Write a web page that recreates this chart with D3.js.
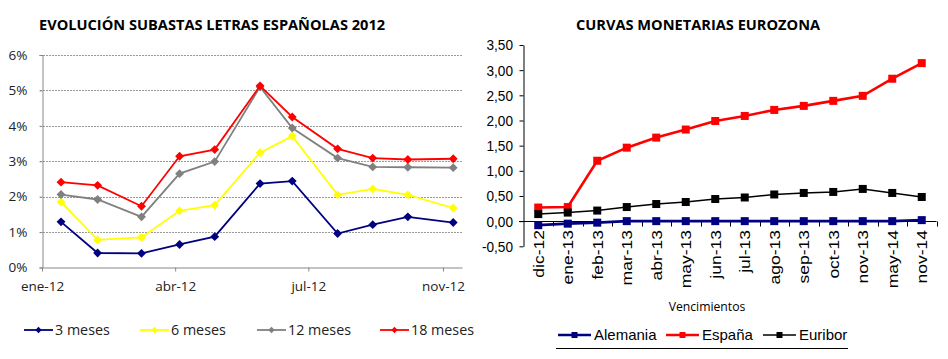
<!DOCTYPE html>
<html><head><meta charset="utf-8">
<script src="https://cdn.jsdelivr.net/npm/d3@7"></script>
<style>body{margin:0;background:#fff}svg{display:block}</style>
</head><body>
<script>
// ---------- Left chart data ----------
const leftTitle = "EVOLUCIÓN SUBASTAS LETRAS ESPAÑOLAS 2012";
const auctionDates = ["2012-01-14","2012-02-08","2012-03-09","2012-04-04","2012-04-28","2012-05-29","2012-06-20","2012-07-21","2012-08-14","2012-09-07","2012-10-08"];
const m3  = [1.29,0.41,0.40,0.65,0.87,2.37,2.44,0.96,1.21,1.43,1.27];
const m6  = [1.85,0.78,0.85,1.60,1.76,3.24,3.71,2.05,2.22,2.05,1.68];
const m12 = [2.06,1.92,1.43,2.65,2.99,5.10,3.94,3.09,2.84,2.83,2.82];
const m18 = [2.41,2.32,1.73,3.14,3.33,5.13,4.25,3.35,3.09,3.05,3.07];
const leftSeriesNames = ["3 meses","6 meses","12 meses","18 meses"];
const leftColors = ["#000080","#FFFF00","#808080","#FF0000"];
const leftTickDates = ["2012-01-01","2012-04-01","2012-07-01","2012-10-01"];
const leftTickLabels = ["ene-12","abr-12","jul-12","nov-12"];
const leftYTicks = [0,1,2,3,4,5,6];

// ---------- Right chart data ----------
const rightTitle = "CURVAS MONETARIAS EUROZONA";
const maturities = ["dic-12","ene-13","feb-13","mar-13","abr-13","may-13","jun-13","jul-13","ago-13","sep-13","oct-13","nov-13","may-14","nov-14"];
const alemania = [-0.08,-0.05,-0.03,0.00,0.00,0.00,0.00,0.00,0.00,0.00,0.00,0.00,0.00,0.02];
const espana   = [0.27,0.28,1.20,1.46,1.66,1.82,1.99,2.09,2.21,2.29,2.39,2.49,2.83,3.14];
const euribor  = [0.14,0.17,0.21,0.28,0.34,0.38,0.44,0.47,0.53,0.56,0.58,0.64,0.56,0.48];
const rightSeriesNames = ["Alemania","España","Euribor"];
const rightColors = ["#000080","#FF0000","#000000"];
const rightYTicks = [-0.5,0,0.5,1,1.5,2,2.5,3,3.5];
const rightXTitle = "Vencimientos";

const W = 948, H = 359;
const svg = d3.select("body").append("svg").attr("width",W).attr("height",H);
svg.append("rect").attr("width",W).attr("height",H).attr("fill","#fff");

// ===== LEFT CHART =====
{
  const parse = d3.timeParse("%Y-%m-%d");
  const x = d3.scaleTime().domain([parse("2012-01-01"), parse("2012-10-14")]).range([42, 462]);
  const y = d3.scaleLinear().domain([0,6]).range([267.5,55]);
  const font = "'Open Sans', sans-serif";
  const g = svg.append("g");

  g.append("text").attr("x",39).attr("y",30).attr("font-family",font).attr("font-weight","bold")
    .attr("font-size",14.6).attr("fill","#000").text(leftTitle);

  g.selectAll(".grid").data(leftYTicks.filter(d=>d>0)).join("line")
    .attr("x1",40).attr("x2",462).attr("y1",d=>Math.round(y(d))+0.5).attr("y2",d=>Math.round(y(d))+0.5)
    .attr("stroke","#9a9a9a").attr("stroke-width",1).attr("stroke-dasharray","2,1");
  const yAxis = d3.axisLeft(y).tickValues(leftYTicks).tickFormat(d=>d+"%").tickSize(3).tickPadding(12);
  const ya = g.append("g").attr("transform","translate(42.5,0)").call(yAxis);
  ya.select(".domain").attr("stroke","#888");
  ya.selectAll(".tick line").attr("stroke","#888");
  ya.selectAll("text").attr("font-family",font).attr("font-size",13.5).attr("fill","#222");
  const xAxis = d3.axisBottom(x).tickValues(leftTickDates.map(parse))
    .tickFormat((d,i)=>leftTickLabels[i]).tickSize(4).tickSizeOuter(0).tickPadding(10);
  const xa = g.append("g").attr("transform","translate(0,267.5)").call(xAxis);
  xa.select(".domain").attr("stroke","#888");
  xa.selectAll(".tick line").attr("stroke","#888");
  xa.selectAll("text").attr("font-family",font).attr("font-size",13.5).attr("fill","#222");

  const series = [m3,m6,m12,m18];
  const line = d3.line().x((d,i)=>x(parse(auctionDates[i]))).y(d=>y(d));
  const diamond = d3.symbol().type(d3.symbolDiamond2).size(50);
  series.forEach((s,k)=>{
    g.append("path").datum(s).attr("d",line).attr("fill","none")
      .attr("stroke",leftColors[k]).attr("stroke-width",1.8);
    g.selectAll(".mk"+k).data(s).join("path")
      .attr("transform",(d,i)=>`translate(${x(parse(auctionDates[i]))},${y(d)})`)
      .attr("d",diamond).attr("fill",leftColors[k]);
  });

  const legX = [24,140,257,380];
  const lg = g.append("g").attr("transform","translate(0,330)");
  leftSeriesNames.forEach((n,k)=>{
    lg.append("line").attr("x1",legX[k]).attr("x2",legX[k]+29).attr("y1",0).attr("y2",0)
      .attr("stroke",leftColors[k]).attr("stroke-width",1.8);
    lg.append("path").attr("transform",`translate(${legX[k]+14.5},0)`)
      .attr("d",d3.symbol().type(d3.symbolDiamond2).size(26)).attr("fill",leftColors[k]);
    lg.append("text").attr("x",legX[k]+31).attr("y",0).attr("dy","0.35em")
      .attr("font-family",font).attr("font-size",14.3).attr("fill","#222").text(n);
  });
}

// ===== RIGHT CHART =====
{
  const font = "'Liberation Sans', Arial, sans-serif";
  const x = d3.scaleBand().domain(maturities).range([523.5,936.5]);
  const y = d3.scaleLinear().domain([-0.5,3.5]).range([246.3,45]);
  const g = svg.append("g");

  g.append("text").attr("x",576).attr("y",30).attr("font-family","'Open Sans', sans-serif").attr("font-weight","bold")
    .attr("font-size",14.6).attr("fill","#000").text(rightTitle);

  const fmt = d=>d3.format(".2f")(d).replace(".",",").replace("−","-");
  const yAxis = d3.axisLeft(y).tickValues(rightYTicks).tickFormat(fmt).tickSize(4).tickSizeOuter(0).tickPadding(6);
  const ya = g.append("g").attr("transform","translate(523.5,0)").call(yAxis);
  ya.select(".domain").attr("stroke","#000");
  ya.selectAll(".tick line").attr("stroke","#000");
  ya.selectAll("text").attr("font-family",font).attr("font-size",15.5).attr("fill","#000")
    .attr("x",-10.5/0.88).attr("transform","scale(0.88,1)");

  const y0 = Math.round(y(0))+0.5;
  g.append("line").attr("x1",519).attr("x2",936.5).attr("y1",y0).attr("y2",y0).attr("stroke","#000");
  const bounds = maturities.map(m=>x(m)).concat([x.range()[1]]);
  g.selectAll(".xt").data(bounds.slice(1)).join("line")
    .attr("x1",d=>Math.round(d)+0.5).attr("x2",d=>Math.round(d)+0.5).attr("y1",y0).attr("y2",y0+5).attr("stroke","#000");
  g.selectAll(".xl").data(maturities).join("text")
    .attr("transform",d=>`translate(${x(d)+x.bandwidth()/2},230) rotate(-90) scale(1,0.86)`)
    .attr("text-anchor","end").attr("dy","0.35em")
    .attr("font-family",font).attr("font-size",17.5).attr("fill","#000").text(d=>d);

  g.append("text").attr("x",707).attr("y",311).attr("text-anchor","middle")
    .attr("font-family","'Open Sans', sans-serif").attr("font-size",12.2).attr("fill","#000").text(rightXTitle);

  const series = [alemania,espana,euribor];
  const widths = [2.6,2.6,1.5];
  const line = d3.line().x((d,i)=>x(maturities[i])+x.bandwidth()/2).y(d=>y(d));
  series.forEach((s,k)=>{
    g.append("path").datum(s).attr("d",line).attr("fill","none")
      .attr("stroke",rightColors[k]).attr("stroke-width",widths[k]);
    g.selectAll(".sq"+k).data(s).join("rect")
      .attr("x",(d,i)=>x(maturities[i])+x.bandwidth()/2-4).attr("y",d=>y(d)-4)
      .attr("width",8).attr("height",8).attr("fill",rightColors[k]);
  });

  const legX = [558,666,763];
  const lg = g.append("g").attr("transform","translate(0,335)");
  rightSeriesNames.forEach((n,k)=>{
    lg.append("line").attr("x1",legX[k]).attr("x2",legX[k]+33).attr("y1",0).attr("y2",0)
      .attr("stroke",rightColors[k]).attr("stroke-width",widths[k]);
    lg.append("rect").attr("x",legX[k]+16.5-3).attr("y",-3).attr("width",6).attr("height",6).attr("fill",rightColors[k]);
    lg.append("text").attr("x",legX[k]+36).attr("y",0).attr("dy","0.36em")
      .attr("font-family",font).attr("font-size",15).attr("fill","#000").text(n);
  });
  g.append("line").attr("x1",556).attr("x2",848).attr("y1",348.5).attr("y2",348.5).attr("stroke","#000").attr("stroke-width",1);
}
</script>
</body></html>
